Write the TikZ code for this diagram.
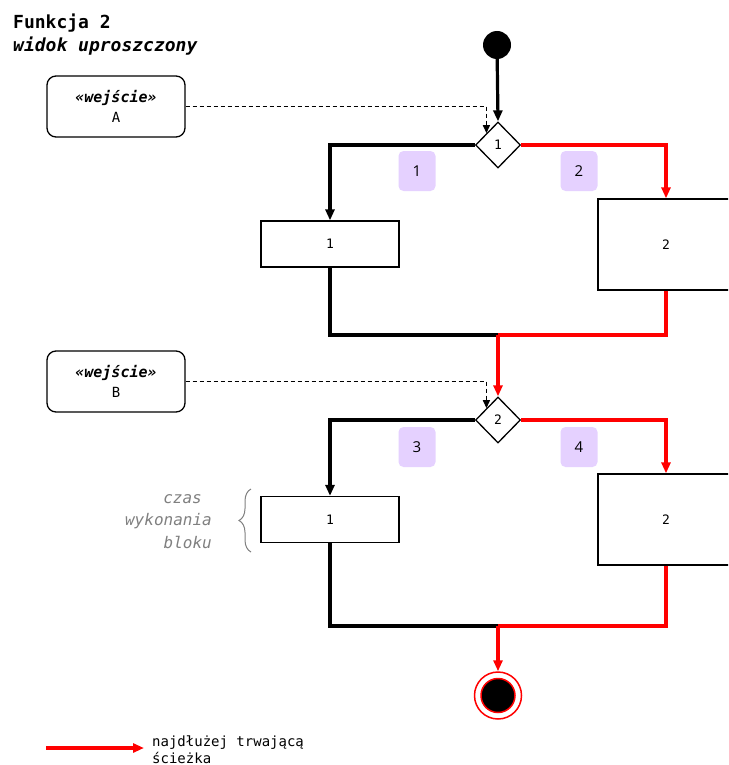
\documentclass[tikz,border=0pt]{standalone}
\usepackage{fontspec}
\setmainfont{DejaVu Sans Mono}
\newfontfamily\tagfont{Open Sans}
\usetikzlibrary{arrows.meta,shapes.geometric,decorations.pathreplacing}

\definecolor{pathred}{RGB}{255,0,0}
\definecolor{tagfill}{RGB}{229,209,255}
\definecolor{notegray}{RGB}{128,128,128}

\tikzset{
  tip/.style={-{Triangle[length=11pt,width=9pt]}},
  flowline/.style={line width=3.2pt, black},
  redline/.style={line width=3.2pt, pathred},
  flowarrow/.style={flowline, tip},
  redarrow/.style={redline, tip},
  inputlink/.style={line width=1.3pt, dash pattern=on 4pt off 3pt,
    -{Triangle[length=8pt,width=7pt]}},
  block/.style={draw, line width=1.3pt, fill=white, inner sep=0pt,
    font=\fontsize{13}{15}\selectfont},
  inbox/.style={draw, line width=1.3pt, rounded corners=9pt, fill=white,
    minimum width=138pt, minimum height=61pt, inner sep=0pt, align=center},
  decision/.style={diamond, draw, line width=1.3pt, fill=white, inner sep=0pt,
    minimum width=45pt, minimum height=46pt, font=\fontsize{13}{15}\selectfont},
  pathtag/.style={fill=tagfill, rounded corners=5pt, minimum width=37pt,
    minimum height=40pt, inner sep=0pt, font=\tagfont\fontsize{15}{17}\selectfont},
  startdot/.style={circle, fill=black, minimum size=28pt, inner sep=0pt},
  endring/.style={circle, draw=pathred, line width=1.5pt, fill=white,
    minimum size=47pt, inner sep=0pt},
  enddot/.style={circle, draw=pathred, line width=1.5pt, fill=black,
    minimum size=34pt, inner sep=0pt},
  note/.style={anchor=base east, inner sep=0pt, text=notegray,
    font=\fontsize{16}{18}\selectfont\itshape},
}

\newcommand{\inputtext}[1]{{\fontsize{15}{18}\selectfont\bfseries\itshape «wejście»}\\[5pt]{\fontsize{14}{16}\selectfont #1}}

\begin{document}
\begin{tikzpicture}[x=1pt,y=-1pt]
  \useasboundingbox (0,0) rectangle (728,765);
  \clip (0,0) rectangle (728,765);
  \fill[white] (0,0) rectangle (728,765);

  % heading
  \node[anchor=base west, inner sep=0pt, font=\fontsize{18}{22}\selectfont\bfseries]
    (title) at (13,29) {Funkcja 2};
  \node[anchor=base west, inner sep=0pt, font=\fontsize{18}{22}\selectfont\bfseries\itshape]
    (subtitle) at (13,52) {widok uproszczony};

  % first stage
  \node[startdot] (start) at (497,45) {};
  \node[decision] (d1) at (498,145) {1};
  \node[inbox] (inA) at (116,106.5) {\inputtext{A}};
  \node[block, minimum width=138pt, minimum height=46pt] (b1) at (330,244) {1};
  \node[block, minimum width=136pt, minimum height=91pt] (b2) at (666,244.5) {2};
  \node[pathtag] (t1) at (417,171) {1};
  \node[pathtag] (t2) at (579,171) {2};
  \coordinate (m1) at (498,335);

  % second stage
  \node[decision] (d2) at (498,420) {2};
  \node[inbox] (inB) at (116,381.5) {\inputtext{B}};
  \node[block, minimum width=138pt, minimum height=46pt] (b3) at (330,519.5) {1};
  \node[block, minimum width=136pt, minimum height=91pt] (b4) at (666,519.5) {2};
  \node[pathtag] (t3) at (417,447) {3};
  \node[pathtag] (t4) at (579,447) {4};
  \coordinate (m2) at (498,626);

  % final state
  \node[endring] (end) at (498,695.5) {};
  \node[enddot] (endcore) at (end.center) {};

  % connectors, first stage
  \draw[flowarrow] (start) -- (d1.north);
  \draw[inputlink] (inA.east) -| (d1.north west);
  \draw[flowarrow] (d1.west) -| (b1.north);
  \draw[redarrow] (d1.east) -| (b2.north);
  \draw[flowline] (b1.south) |- (m1);
  \draw[redline] (b2.south) |- (m1);
  \draw[redarrow] (m1) -- (d2.north);

  % connectors, second stage
  \draw[inputlink] (inB.east) -| (d2.north west);
  \draw[flowarrow] (d2.west) -| (b3.north);
  \draw[redarrow] (d2.east) -| (b4.north);
  \draw[flowline] (b3.south) |- (m2);
  \draw[redline] (b4.south) |- (m2);
  \draw[redarrow] (m2) -- (end.north);

  % block duration note
  \coordinate (braceTop) at (251,489);
  \coordinate (braceBot) at (251,552);
  \draw[notegray, line width=1pt, decorate,
    decoration={brace, amplitude=12pt}] (braceBot) -- (braceTop);
  \node[note] (n1) at (202,503) {czas};
  \node[note] (n2) at (212,525) {wykonania};
  \node[note] (n3) at (212,548) {bloku};

  % legend
  \coordinate (legA) at (46,748);
  \coordinate (legB) at (144,748);
  \draw[redarrow] (legA) -- (legB);
  \node[anchor=base west, inner sep=0pt, font=\fontsize{14}{16.5}\selectfont]
    (legtext1) at (152,746) {najdłużej trwającą};
  \node[anchor=base west, inner sep=0pt, font=\fontsize{14}{16.5}\selectfont]
    (legtext2) at (152,763) {ścieżka};
\end{tikzpicture}
\end{document}
